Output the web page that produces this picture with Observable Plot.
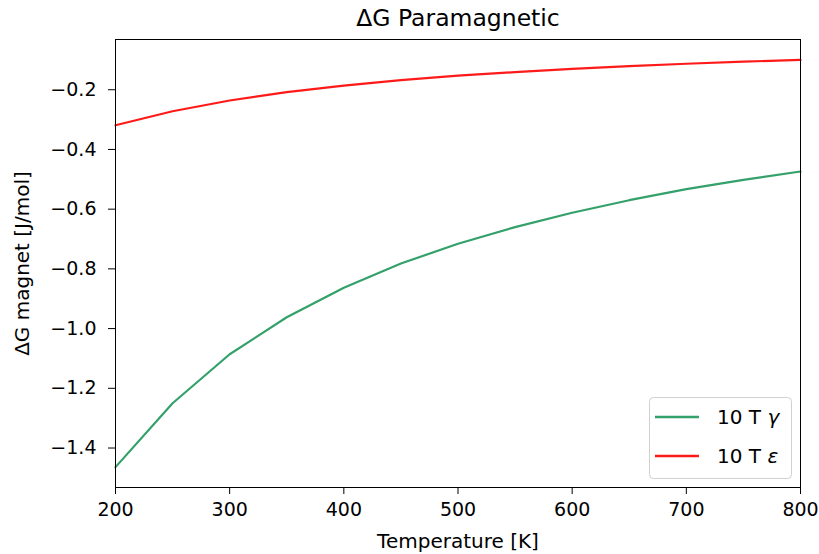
<!DOCTYPE html>
<html>
<head>
<meta charset="utf-8">
<script src="https://cdn.jsdelivr.net/npm/d3@7"></script>
<script src="https://cdn.jsdelivr.net/npm/@observablehq/plot@0.6"></script>
<style>
  html, body { margin: 0; padding: 0; background: #fff; }
  #chart { width: 819px; height: 554px; }
</style>
</head>
<body>
<div id="chart"></div>
<script>
const temperatures = [200, 250, 300, 350, 400, 450, 500, 550, 600, 650, 700, 750, 800];
const gammaValues = [-1.464, -1.250, -1.086, -0.962, -0.863, -0.782, -0.716, -0.660, -0.612, -0.570, -0.533, -0.502, -0.474];
const epsilonValues = [-0.319, -0.272, -0.236, -0.208, -0.186, -0.168, -0.153, -0.141, -0.130, -0.121, -0.113, -0.106, -0.100];
const seriesNames = ["10 T γ", "10 T ε"];
const seriesColors = ["#34a06a", "#ff1a1a"];
const xTicks = [200, 300, 400, 500, 600, 700, 800];
const yTicks = [-1.4, -1.2, -1.0, -0.8, -0.6, -0.4, -0.2];
const titleText = "ΔG Paramagnetic";
const xLabel = "Temperature [K]";
const yLabel = "ΔG magnet [J/mol]";

const rows = [];
temperatures.forEach((t, i) => {
  rows.push({T: t, G: gammaValues[i], s: seriesNames[0]});
});
temperatures.forEach((t, i) => {
  rows.push({T: t, G: epsilonValues[i], s: seriesNames[1]});
});

const W = 819, H = 554, mL = 115, mR = 19, mT = 39, mB = 67;
const font = "DejaVu Sans";
const fs = 19;
const fsLabel = 20;

const allG = gammaValues.concat(epsilonValues);
const gMin = d3.min(allG), gMax = d3.max(allG);
const pad = (gMax - gMin) * 0.05;

const svg = Plot.plot({
  width: W, height: H,
  marginLeft: mL, marginRight: mR, marginTop: mT, marginBottom: mB,
  style: {fontFamily: font, fontSize: fs + "px", color: "#000", background: "#fff", overflow: "visible"},
  x: {domain: [200, 800], label: null},
  y: {domain: [gMin - pad, gMax + pad], label: null},
  color: {domain: seriesNames, range: seriesColors},
  marks: [
    Plot.line(rows, {x: "T", y: "G", z: "s", stroke: "s", strokeWidth: 2.2}),
    Plot.frame({stroke: "#000", strokeWidth: 1}),
    Plot.axisX({ticks: xTicks, tickSize: 7, tickPadding: 8, tickFormat: d3.format("d"), label: null, fontSize: fs, stroke: "#000"}),
    Plot.axisY({ticks: yTicks, tickSize: 7, tickPadding: 12, tickFormat: d3.format(".1f"), label: null, fontSize: fs, stroke: "#000"}),
    Plot.text([titleText], {frameAnchor: "top", lineAnchor: "middle", textAnchor: "middle", dy: -21, fontSize: 23.5, fill: "#000"}),
    Plot.text([xLabel], {frameAnchor: "bottom", lineAnchor: "middle", textAnchor: "middle", dy: 54, fontSize: fsLabel, fill: "#000"}),
    Plot.text([yLabel], {frameAnchor: "left", lineAnchor: "middle", textAnchor: "middle", dx: -93, rotate: -90, fontSize: fsLabel, fill: "#000"})
  ]
});

// Legend (matplotlib-style, lower right)
const boxW = 142, boxH = 81;
const bx = W - mR - 9 - boxW, by = H - mB - 9 - boxH;
const g = d3.select(svg).append("g").attr("font-family", font).attr("font-size", fsLabel).attr("text-anchor", "start");
g.append("rect").attr("x", bx + 0.5).attr("y", by + 0.5).attr("width", boxW).attr("height", boxH)
  .attr("rx", 4).attr("fill", "#fff").attr("fill-opacity", 0.8).attr("stroke", "#d0d0d0");
seriesNames.forEach((name, i) => {
  const yy = by + 20 + i * 39;
  g.append("line").attr("x1", bx + 6).attr("x2", bx + 50).attr("y1", yy).attr("y2", yy)
    .attr("stroke", seriesColors[i]).attr("stroke-width", 2.5);
  const parts = name.split(" ");
  const t = g.append("text").attr("x", bx + 68).attr("y", yy).attr("dy", "0.35em").attr("fill", "#000");
  t.append("tspan").text(parts[0] + " " + parts[1] + " ");
  t.append("tspan").attr("font-style", "italic").text(parts[2]);
});

document.getElementById("chart").appendChild(svg);
</script>
</body>
</html>
